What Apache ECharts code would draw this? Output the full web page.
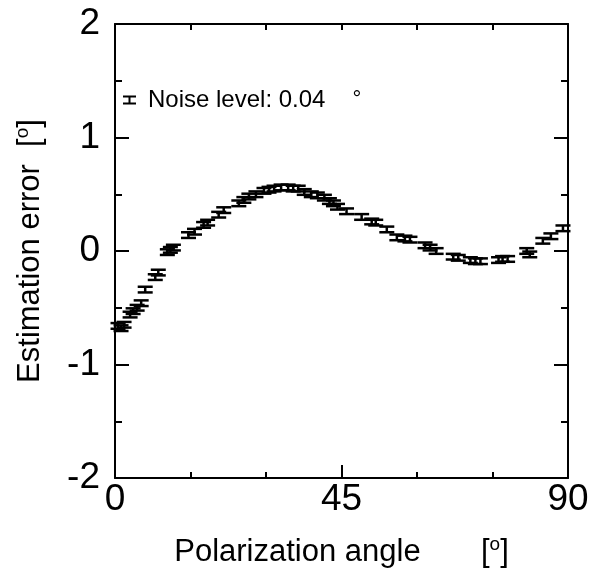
<!DOCTYPE html>
<html><head><meta charset="utf-8">
<script src="https://cdn.jsdelivr.net/npm/echarts@6/dist/echarts.min.js"></script>
<style>html,body{margin:0;padding:0;background:#fff}#c{width:591px;height:568px}</style>
</head><body><div id="c"></div>
<script>
// Polarization angle [deg]
const angles = [0.6,1.2,1.8,3.0,3.6,4.4,5.2,6.0,8.0,8.6,10.4,11.0,11.6,14.6,15.8,17.6,18.4,20.6,21.6,24.6,25.6,26.6,28.0,29.6,30.6,31.6,33.0,34.4,35.4,36.4,37.6,39.0,40.2,41.6,42.6,43.4,44.2,46.0,49.0,51.0,51.8,54.0,56.0,57.6,58.6,61.6,62.6,63.8,67.2,68.2,70.6,71.6,72.6,76.2,77.0,78.0,81.8,82.4,85.0,86.6,89.0];
// Estimation error [deg]
const errorsMean = [-0.66,-0.68,-0.65,-0.56,-0.53,-0.50,-0.46,-0.34,-0.23,-0.19,-0.01,0.01,0.03,0.14,0.17,0.23,0.25,0.32,0.36,0.42,0.45,0.48,0.50,0.53,0.54,0.55,0.56,0.56,0.55,0.55,0.52,0.50,0.49,0.47,0.44,0.42,0.39,0.35,0.30,0.26,0.25,0.19,0.12,0.11,0.10,0.05,0.03,0.00,-0.05,-0.06,-0.08,-0.09,-0.09,-0.08,-0.07,-0.07,0.00,-0.03,0.09,0.13,0.20];
// half-length of each error bar
const errorsHalf = [0.025,0.025,0.025,0.025,0.025,0.025,0.025,0.025,0.025,0.025,0.025,0.025,0.025,0.025,0.025,0.025,0.025,0.025,0.025,0.025,0.025,0.025,0.025,0.025,0.025,0.025,0.025,0.025,0.025,0.025,0.025,0.025,0.025,0.025,0.025,0.025,0.025,0.025,0.025,0.025,0.025,0.025,0.025,0.025,0.025,0.025,0.025,0.025,0.025,0.025,0.025,0.025,0.025,0.025,0.025,0.025,0.025,0.025,0.025,0.025,0.025];
const xTicks = [0,45,90];
const yTicks = [-2,-1,0,1,2];
const seriesName = 'Noise level: 0.04';

const FONT = "'Liberation Sans', Arial, Helvetica, sans-serif";
const data = angles.map((a,i)=>[a, errorsMean[i], errorsHalf[i]]);

const chart = echarts.init(document.getElementById('c'), null, {renderer:'canvas'});
const axisLineStyle = {onZero:false, lineStyle:{color:'#000', width:2}};
const tickStyle = {color:'#000', width:2};
chart.setOption({
  animation:false,
  backgroundColor:'#fff',
  grid:{left:115, right:23, top:24, bottom:90, containLabel:false, outerBoundsMode:'none'},
  legend:{
    left:118, top:83, itemWidth:13, itemHeight:9, orient:'vertical',
    data:[{name:seriesName, icon:'path://M0,0h13v2h-13z M5.5,0h2v9h-2z M0,7h13v2h-13z'}],
    formatter: n => '{a|' + n + '}{b|°}',
    textStyle:{rich:{
      a:{fontFamily:FONT, fontSize:24, color:'#000', padding:[0,0,0,7]},
      b:{fontFamily:FONT, fontSize:22, color:'#000', padding:[0,0,0,27]}
    }}
  },
  xAxis:[{
    type:'value', min:0, max:90, interval:45, position:'bottom',
    axisLine:axisLineStyle,
    axisTick:{inside:true, length:13, lineStyle:tickStyle},
    minorTick:{show:true, splitNumber:3, length:6, lineStyle:tickStyle},
    splitLine:{show:false}, minorSplitLine:{show:false},
    axisLabel:{color:'#000', fontSize:37, fontFamily:FONT, margin:3,
      formatter: v => xTicks.includes(v) ? String(v) : ''},
    name:'Polarization angle       [{s|o}]', nameLocation:'middle', nameGap:57,
    nameTextStyle:{color:'#000', fontSize:31, fontFamily:FONT,
      rich:{s:{fontSize:19, fontFamily:FONT, color:'#000', padding:[0,0,15,0]}}}
  },{
    type:'value', min:0, max:90, interval:45, position:'top',
    axisLine:axisLineStyle,
    axisTick:{inside:true, length:6, lineStyle:tickStyle},
    minorTick:{show:true, splitNumber:3, length:6, lineStyle:tickStyle},
    splitLine:{show:false}, axisLabel:{show:false}
  }],
  yAxis:[{
    type:'value', min:-2, max:2, interval:1, position:'left',
    axisLine:axisLineStyle,
    axisTick:{inside:true, length:14, lineStyle:tickStyle},
    minorTick:{show:true, splitNumber:2, length:7, lineStyle:tickStyle},
    splitLine:{show:false}, minorSplitLine:{show:false},
    axisLabel:{color:'#000', fontSize:37, fontFamily:FONT, margin:15,
      formatter: v => yTicks.includes(v) ? String(v) : ''},
    name:'Estimation error  [{s|o}]', nameLocation:'middle', nameGap:68, nameRotate:90,
    nameTextStyle:{color:'#000', fontSize:31, fontFamily:FONT,
      rich:{s:{fontSize:19, fontFamily:FONT, color:'#000', padding:[0,0,15,0]}}}
  },{
    type:'value', min:-2, max:2, interval:1, position:'right',
    axisLine:axisLineStyle,
    axisTick:{inside:true, length:14, lineStyle:tickStyle},
    minorTick:{show:true, splitNumber:2, length:7, lineStyle:tickStyle},
    splitLine:{show:false}, axisLabel:{show:false}
  }],
  series:[{
    name:seriesName, type:'custom', xAxisIndex:0, yAxisIndex:0,
    data:data,
    itemStyle:{color:'#000'},
    renderItem:(params, api)=>{
      const x = api.value(0), y = api.value(1), e = api.value(2);
      const hi = api.coord([x, y+e]), lo = api.coord([x, y-e]);
      const hw = 7.5;
      const st = {stroke:'#000', lineWidth:2.5};
      return {type:'group', children:[
        {type:'line', shape:{x1:hi[0], y1:hi[1], x2:lo[0], y2:lo[1]}, style:st},
        {type:'line', shape:{x1:hi[0]-hw, y1:hi[1], x2:hi[0]+hw, y2:hi[1]}, style:st},
        {type:'line', shape:{x1:lo[0]-hw, y1:lo[1], x2:lo[0]+hw, y2:lo[1]}, style:st}
      ]};
    }
  }]
});
</script></body></html>
